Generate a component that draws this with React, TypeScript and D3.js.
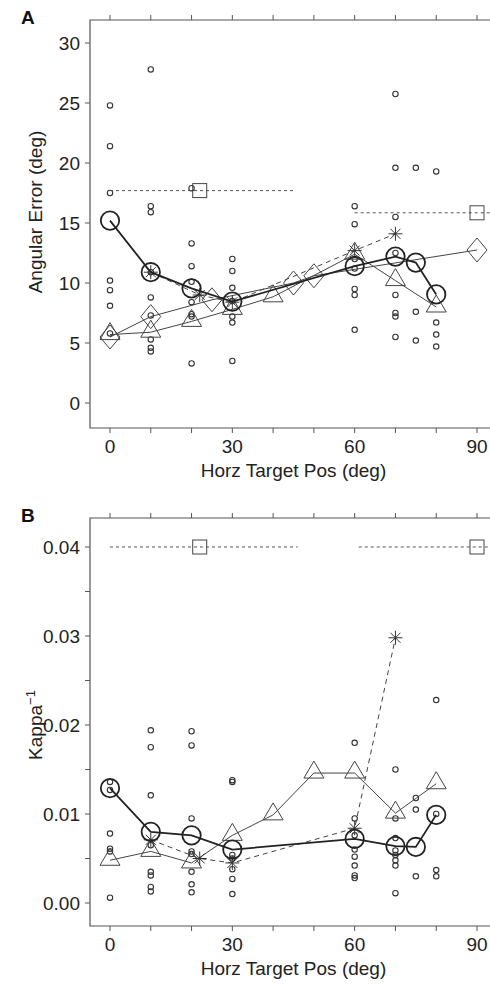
import * as d3 from 'd3';
import React, { useEffect, useRef } from 'react';

// individual observations (small circles), panel A
const rawPosA = [0, 10, 20, 30, 60, 70, 75, 80];
const rawValsA = [
  [24.8, 21.4, 17.5, 10.2, 9.4, 8.1, 5.8],
  [27.8, 16.4, 15.9, 10.9, 8.8, 7.3, 5.3, 4.6, 4.3],
  [17.9, 13.3, 11.4, 10.1, 8.4, 7.4, 7.2, 3.3],
  [12.0, 11.0, 9.6, 8.5, 7.2, 6.7, 3.5],
  [16.4, 14.9, 12.0, 11.2, 9.5, 9.0, 6.1],
  [25.75, 19.6, 15.5, 12.5, 9.0, 7.5, 7.2, 5.5],
  [19.6, 7.6, 5.2],
  [19.3, 6.7, 5.7, 4.7]
];

// subject means, panel A
const circX = [0, 10, 20, 30, 60, 70, 75, 80];
const circA = [15.2, 10.9, 9.55, 8.45, 11.4, 12.2, 11.7, 9.05];
const triXA = [0, 10, 20, 30, 40, 60, 70, 80];
const triA = [5.7, 5.9, 6.8, 7.8, 8.85, 12.4, 10.2, 8.0];
const diaXA = [0, 10, 25, 45, 50, 90];
const diaA = [5.5, 7.2, 8.6, 10.0, 10.6, 12.75];
const astX = [10, 22, 30, 60, 70];
const astA = [10.9, 9.0, 8.4, 12.7, 14.1];
const sqX = [22, 90];
const sqA = [17.7, 15.85];
const sqSpanA = [[0, 45.5], [60, 96]];

// panel B
const rawPosB = [0, 10, 20, 30, 60, 70, 75, 80];
const rawValsB = [
  [0.0136, 0.0127, 0.0078, 0.0061, 0.0058, 0.0006],
  [0.0194, 0.0175, 0.0121, 0.0065, 0.0035, 0.0031, 0.0018, 0.0013],
  [0.0193, 0.0177, 0.0095, 0.0058, 0.0055, 0.0035, 0.0021, 0.0012],
  [0.0138, 0.0136, 0.0054, 0.0050, 0.0038, 0.0027, 0.0010],
  [0.0180, 0.0095, 0.0076, 0.0060, 0.0052, 0.0042, 0.0031, 0.0028],
  [0.0150, 0.0095, 0.0073, 0.0059, 0.0054, 0.0048, 0.0042, 0.0011],
  [0.0118, 0.0105, 0.0030],
  [0.0228, 0.0100, 0.0037, 0.0030]
];
const circB = [0.0129, 0.0080, 0.0076, 0.0060, 0.0072, 0.0064, 0.0063, 0.0099];
const triXB = [0, 10, 20, 30, 40, 50, 60, 70, 80];
const triB = [0.0048, 0.0058, 0.0045, 0.0076, 0.0099, 0.0146, 0.0146, 0.0101, 0.0134];
const astB = [0.0071, 0.0050, 0.0045, 0.0084, 0.0298];
const sqB = [0.04, 0.04];
const sqSpanB = [[0, 46], [61, 96]];

const xTicks = d3.range(0, 91, 10);
const xLabels = [0, 30, 60, 90];
const yTicksA = d3.range(0, 31, 5);
const yTicksB = d3.range(0, 0.0401, 0.005);
const yLabelsB = [0, 0.01, 0.02, 0.03, 0.04];

const FONT = '"Liberation Sans", Arial, sans-serif';
const FS = 19;

export default function App() {
  const ref = useRef(null);

  useEffect(() => {
    const svg = d3.select(ref.current);
    svg.selectAll('*').remove();

    const x = d3.scaleLinear().domain([0, 90]).range([110, 477]);
    const frameL = 90;
    const frameR = 490;

    const panel = (opt) => {
      const { y, top, bottom, letter, title, yTicks, yLabels, fmt } = opt;
      const g = svg.append('g');

      // frame: left, top, bottom
      g.append('path')
        .attr('d', `M${frameR},${top}H${frameL}V${bottom}H${frameR}`)
        .style('fill', 'none').style('stroke', '#555').style('stroke-width', 1.2);

      xTicks.forEach(t => {
        g.append('line').attr('x1', x(t)).attr('x2', x(t)).attr('y1', top).attr('y2', top - 5)
          .style('stroke', '#555');
        g.append('line').attr('x1', x(t)).attr('x2', x(t)).attr('y1', bottom).attr('y2', bottom + 5)
          .style('stroke', '#555');
      });
      xLabels.forEach(t => {
        g.append('text').attr('x', x(t)).attr('y', bottom + 25)
          .attr('text-anchor', 'middle').text(t)
          .style('font', `${FS}px ${FONT}`).style('fill', '#222');
      });
      g.append('text').attr('x', x(45)).attr('y', bottom + 49)
        .attr('text-anchor', 'middle').text('Horz Target Pos (deg)')
        .style('font', `${FS}px ${FONT}`).style('fill', '#222');

      yTicks.forEach(t => {
        g.append('line').attr('x1', frameL).attr('x2', frameL - 5).attr('y1', y(t)).attr('y2', y(t))
          .style('stroke', '#555');
      });
      yLabels.forEach(t => {
        g.append('text').attr('x', frameL - 10).attr('y', y(t)).attr('dy', '0.36em')
          .attr('text-anchor', 'end').text(fmt(t))
          .style('font', `${FS}px ${FONT}`).style('fill', '#222');
      });

      g.append('text').attr('x', 21).attr('y', top + 4).text(letter)
        .style('font', `bold ${FS}px ${FONT}`).style('fill', '#111');

      const yt = g.append('text')
        .attr('transform', `translate(42, ${opt.titleY}) rotate(-90)`)
        .attr('text-anchor', 'middle')
        .style('font', `${FS}px ${FONT}`).style('fill', '#222');
      yt.append('tspan').text(title);
      if (opt.sup) {
        yt.append('tspan').attr('dy', -7).style('font-size', '13px').text(opt.sup);
      }
      return g;
    };

    const marks = (g, y, data) => {
      const line = d3.line().x(d => x(d[0])).y(d => y(d[1]));
      const zip = (xs, ys) => xs.map((v, i) => [v, ys[i]]);

      // raw points
      data.rawPos.forEach((p, i) => {
        data.rawVals[i].forEach(v => {
          g.append('circle').attr('cx', x(p)).attr('cy', y(v)).attr('r', 2.7)
            .style('fill', 'none').style('stroke', '#333').style('stroke-width', 1.1);
        });
      });

      // squares with dashed horizontal spans
      data.sq.forEach((v, i) => {
        g.append('line').attr('x1', x(data.sqSpan[i][0])).attr('x2', Math.min(x(data.sqSpan[i][1]), 490))
          .attr('y1', y(v)).attr('y2', y(v))
          .style('stroke', '#555').style('stroke-dasharray', '3,3').style('stroke-width', 1);
        g.append('rect').attr('x', x(sqX[i]) - 7).attr('y', y(v) - 7).attr('width', 14).attr('height', 14)
          .style('fill', 'none').style('stroke', '#444').style('stroke-width', 1);
      });

      // diamonds
      if (data.dia) {
        const pts = zip(data.diaX, data.dia);
        g.append('path').attr('d', line(pts))
          .style('fill', 'none').style('stroke', '#444').style('stroke-width', 1);
        pts.forEach(d => {
          g.append('path')
            .attr('d', `M${x(d[0])},${y(d[1]) - 12}l10,12l-10,12l-10,-12z`)
            .style('fill', 'none').style('stroke', '#444').style('stroke-width', 1);
        });
      }

      // triangles
      const tp = zip(data.triX, data.tri);
      g.append('path').attr('d', line(tp))
        .style('fill', 'none').style('stroke', '#444').style('stroke-width', 1);
      tp.forEach(d => {
        g.append('path')
          .attr('d', `M${x(d[0])},${y(d[1]) - 12}l10,17h-20z`)
          .style('fill', 'none').style('stroke', '#444').style('stroke-width', 1);
      });

      // asterisks, dashed
      const ap = zip(astX, data.ast);
      g.append('path').attr('d', line(ap))
        .style('fill', 'none').style('stroke', '#444').style('stroke-dasharray', '5,4').style('stroke-width', 1);
      ap.forEach(d => {
        const cx = x(d[0]);
        const cy = y(d[1]);
        g.append('path')
          .attr('d', `M${cx - 7},${cy}h14M${cx},${cy - 7}v14M${cx - 5},${cy - 5}l10,10M${cx - 5},${cy + 5}l10,-10`)
          .style('fill', 'none').style('stroke', '#333').style('stroke-width', 1);
      });

      // big circles, thick line
      const cp = zip(circX, data.circ);
      g.append('path').attr('d', line(cp))
        .style('fill', 'none').style('stroke', '#222').style('stroke-width', 1.8);
      cp.forEach(d => {
        g.append('circle').attr('cx', x(d[0])).attr('cy', y(d[1])).attr('r', 9.2)
          .style('fill', 'none').style('stroke', '#222').style('stroke-width', 1.8);
      });
    };

    const yA = d3.scaleLinear().domain([0, 30]).range([403, 43]);
    const gA = panel({
      y: yA, top: 20, bottom: 428, letter: 'A', title: 'Angular Error (deg)', titleY: 212,
      yTicks: yTicksA, yLabels: yTicksA, fmt: d3.format('d')
    });
    marks(gA, yA, {
      rawPos: rawPosA, rawVals: rawValsA, sq: sqA, sqSpan: sqSpanA,
      diaX: diaXA, dia: diaA, triX: triXA, tri: triA, ast: astA, circ: circA
    });

    const yB = d3.scaleLinear().domain([0, 0.04]).range([903, 547]);
    const gB = panel({
      y: yB, top: 518, bottom: 926, letter: 'B', title: 'Kappa', sup: '\u22121', titleY: 725,
      yTicks: yTicksB, yLabels: yLabelsB, fmt: d3.format('.2f')
    });
    marks(gB, yB, {
      rawPos: rawPosB, rawVals: rawValsB, sq: sqB, sqSpan: sqSpanB,
      triX: triXB, tri: triB, ast: astB, circ: circB
    });
  }, []);

  return (
    <div style={{ position: 'absolute', left: 0, top: 0, background: '#fff' }}>
      <svg ref={ref} width={490} height={986} style={{ display: 'block' }} />
    </div>
  );
}
